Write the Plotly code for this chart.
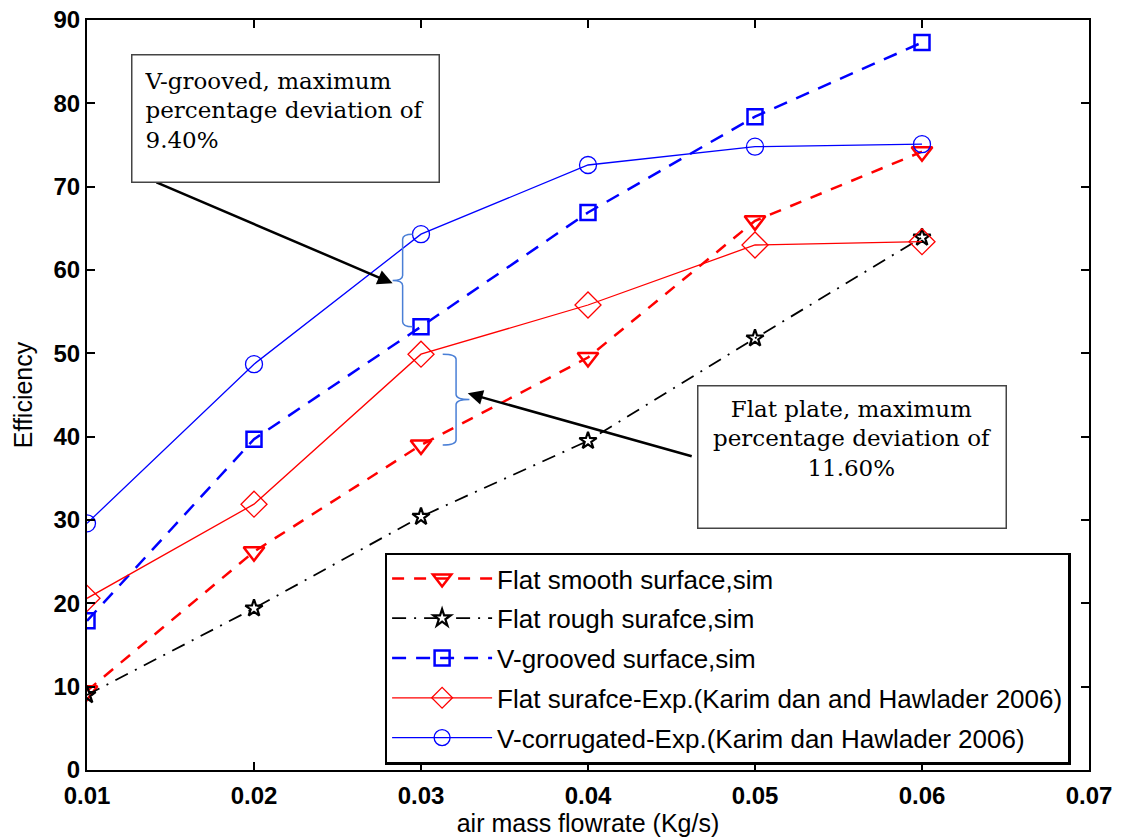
import plotly.graph_objects as go

flow = [0.01, 0.02, 0.03, 0.04, 0.05, 0.06]
flat_smooth_sim = [9.5, 26.2, 39.0, 49.5, 65.9, 74.2]
flat_rough_sim = [9.0, 19.4, 30.4, 39.5, 51.8, 63.9]
vgroove_sim = [17.9, 39.7, 53.2, 66.9, 78.4, 87.3]
flat_exp = [20.6, 31.9, 49.9, 55.8, 63.0, 63.4]
vcorr_exp = [29.6, 48.7, 64.3, 72.6, 74.8, 75.1]

x_ticks = [0.01, 0.02, 0.03, 0.04, 0.05, 0.06, 0.07]
x_labels = ["0.01", "0.02", "0.03", "0.04", "0.05", "0.06", "0.07"]
y_ticks = [0, 10, 20, 30, 40, 50, 60, 70, 80, 90]

fig = go.Figure()

series = [
    ("Flat smooth surface,sim", flat_smooth_sim, "red", "12px,10px", 2.5,
     dict(symbol="triangle-down-open", size=18, line=dict(width=2.5, color="red"))),
    ("Flat rough surafce,sim", flat_rough_sim, "black", "14px,8px,2px,8px", 1.8,
     dict(symbol="star-open", size=13, line=dict(width=2.2, color="black"))),
    ("V-grooved surface,sim", vgroove_sim, "blue", "14px,10px", 2.5,
     dict(symbol="square-open", size=15, line=dict(width=2.5, color="blue"))),
    ("Flat surafce-Exp.(Karim dan and Hawlader 2006)", flat_exp, "red", "solid", 1.3,
     dict(symbol="diamond-open", size=20, line=dict(width=1.3, color="red"))),
    ("V-corrugated-Exp.(Karim dan Hawlader 2006)", vcorr_exp, "blue", "solid", 1.3,
     dict(symbol="circle-open", size=17, line=dict(width=1.3, color="blue"))),
]
for i, (name, ys, col, dash, w, mk) in enumerate(series):
    fig.add_trace(go.Scatter(
        x=flow, y=ys, name=name, mode="lines+markers",
        line=dict(color=col, dash=dash, width=w),
        marker=dict(color=col, **mk),
        legendgroup=f"g{i}",
    ))

brace_col = "#4a7fd6"

def brace(x, y0, y1, direction, dx=0.0006, dy=0.6):
    # direction: -1 tip points left (hooks right), +1 tip points right (hooks left)
    h = -direction * dx
    t = direction * dx
    ym = (y0 + y1) / 2
    return (f"M {x+h},{y1} Q {x},{y1} {x},{y1-dy} "
            f"L {x},{ym+dy} Q {x},{ym} {x+t},{ym} "
            f"Q {x},{ym} {x},{ym-dy} "
            f"L {x},{y0+dy} Q {x},{y0} {x+h},{y0}")

fig.add_shape(type="path", xref="x", yref="y",
              path=brace(0.0289, 53.2, 64.3, -1),
              line=dict(color=brace_col, width=1.5))
fig.add_shape(type="path", xref="x", yref="y",
              path=brace(0.0321, 39.0, 49.9, +1, dx=0.0008),
              line=dict(color=brace_col, width=1.5))

# arrows
fig.add_annotation(x=0.0283, y=58.4, ax=0.01407, ay=70.6, xref="x", yref="y",
                   axref="x", ayref="y", text="", showarrow=True,
                   arrowhead=2, arrowsize=1.2, arrowwidth=2.5, arrowcolor="black")
fig.add_annotation(x=0.0328, y=45.2, ax=0.0463, ay=37.6, xref="x", yref="y",
                   axref="x", ayref="y", text="", showarrow=True,
                   arrowhead=2, arrowsize=1.2, arrowwidth=2.5, arrowcolor="black")

# text boxes
fig.add_annotation(x=0.01263, y=85.9, xref="x", yref="y", xanchor="left", yanchor="top",
                   text="V-grooved, maximum<br>percentage deviation of<br>9.40%",
                   showarrow=False, align="left", valign="top",
                   width=282, height=102, borderpad=12,
                   bordercolor="#444", borderwidth=1.5, bgcolor="white",
                   font=dict(family="DejaVu Serif", size=23, color="black"))
fig.add_annotation(x=0.04653, y=46.2, xref="x", yref="y", xanchor="left", yanchor="top",
                   text="Flat plate, maximum<br>percentage deviation of<br>11.60%",
                   showarrow=False, align="center", valign="top",
                   width=289, height=123, borderpad=9,
                   bordercolor="#444", borderwidth=1.5, bgcolor="white",
                   font=dict(family="DejaVu Serif", size=23, color="black"))

fig.update_layout(
    width=1121, height=839,
    margin=dict(l=87, r=32, t=20, b=69),
    plot_bgcolor="white", paper_bgcolor="white",
    font=dict(family="Liberation Sans, Arial", color="black"),
    showlegend=True,
    legend=dict(x=0.297, y=0.29, xanchor="left", yanchor="top",
                bgcolor="white", bordercolor="black", borderwidth=2.5,
                font=dict(size=26, family="Liberation Sans, Arial", color="black"),
                traceorder="grouped", tracegroupgap=3, itemwidth=100),
)
fig.update_xaxes(range=[0.01, 0.07], tickvals=x_ticks, ticktext=x_labels,
                 ticks="inside", ticklen=8, tickcolor="black", tickwidth=1.5,
                 showline=True, linecolor="black", linewidth=2, mirror="allticks",
                 showgrid=False, zeroline=False, ticklabelstandoff=3, automargin=False,
                 tickfont=dict(size=24, weight="bold", family="Liberation Sans, Arial"),
                 title=dict(text="air mass flowrate (Kg/s)", font=dict(size=25), standoff=6))
fig.update_yaxes(range=[0, 90], tickvals=y_ticks, automargin=False,
                 ticks="inside", ticklen=8, tickcolor="black", tickwidth=1.5,
                 showline=True, linecolor="black", linewidth=2, mirror="allticks",
                 showgrid=False, zeroline=False,
                 tickfont=dict(size=24, weight="bold", family="Liberation Sans, Arial"),
                 title=dict(text="Efficiency", font=dict(size=25), standoff=14))

fig.write_html("out.html")
